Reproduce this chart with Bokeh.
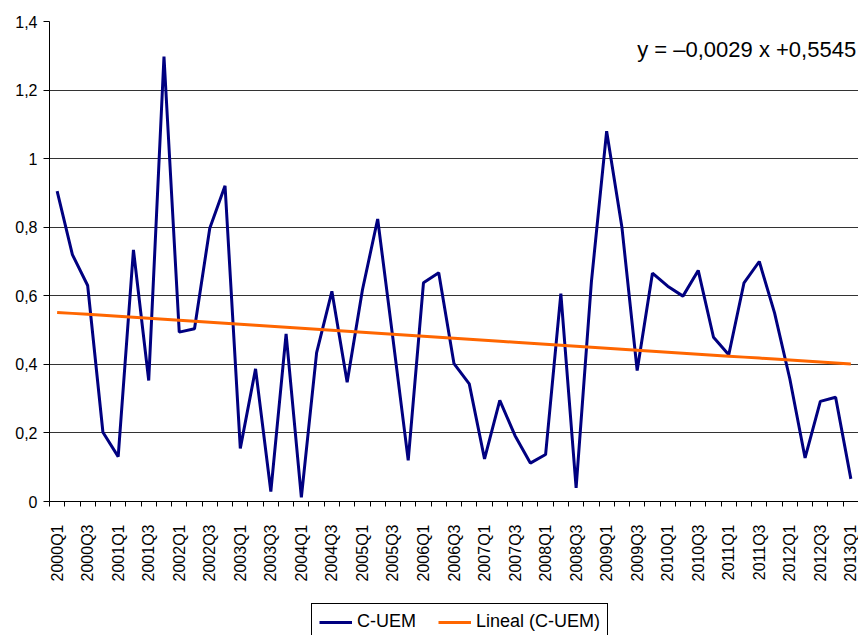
import numpy as np
from bokeh.plotting import figure
from bokeh.layouts import column
from bokeh.models import Range1d, FixedTicker, Legend, LegendItem, Label, ColumnDataSource
from bokeh.embed import file_html
from bokeh.resources import INLINE

# ---- data ----
quarters = [
    "2000Q1", "2000Q2", "2000Q3", "2000Q4",
    "2001Q1", "2001Q2", "2001Q3", "2001Q4",
    "2002Q1", "2002Q2", "2002Q3", "2002Q4",
    "2003Q1", "2003Q2", "2003Q3", "2003Q4",
    "2004Q1", "2004Q2", "2004Q3", "2004Q4",
    "2005Q1", "2005Q2", "2005Q3", "2005Q4",
    "2006Q1", "2006Q2", "2006Q3", "2006Q4",
    "2007Q1", "2007Q2", "2007Q3", "2007Q4",
    "2008Q1", "2008Q2", "2008Q3", "2008Q4",
    "2009Q1", "2009Q2", "2009Q3", "2009Q4",
    "2010Q1", "2010Q2", "2010Q3", "2010Q4",
    "2011Q1", "2011Q2", "2011Q3", "2011Q4",
    "2012Q1", "2012Q2", "2012Q3", "2012Q4",
    "2013Q1",
]
c_uem = [
    0.905, 0.720, 0.630, 0.202,
    0.131, 0.734, 0.353, 1.298,
    0.494, 0.504, 0.797, 0.921,
    0.155, 0.387, 0.029, 0.489,
    0.012, 0.434, 0.613, 0.348,
    0.617, 0.824, 0.475, 0.120,
    0.638, 0.667, 0.402, 0.343,
    0.124, 0.295, 0.192, 0.112,
    0.137, 0.606, 0.040, 0.640,
    1.080, 0.800, 0.382, 0.666,
    0.628, 0.599, 0.674, 0.479,
    0.428, 0.638, 0.700, 0.550,
    0.358, 0.127, 0.292, 0.304,
    0.066,
]
trend_slope = -0.0029
trend_intercept = 0.5545
equation_text = "y =  \u20130,0029 x  +0,5545"
y_ticks = [0, 0.2, 0.4, 0.6, 0.8, 1.0, 1.2, 1.4]
y_tick_labels = ["0", "0,2", "0,4", "0,6", "0,8", "1", "1,2", "1,4"]
series_label = "C-UEM"
trend_label = "Lineal (C-UEM)"

# ---- build ----
FONT = "Liberation Sans"
NAVY = "#000080"
ORANGE = "#FF6600"
n = len(quarters)
idx = np.arange(1, n + 1)
trend = trend_slope * idx + trend_intercept

src = ColumnDataSource(dict(x=idx, y=c_uem, t=trend))

p = figure(width=858, height=600, output_backend="svg", toolbar_location=None,
           x_range=Range1d(0.5, n + 0.5), y_range=Range1d(0, 1.4),
           min_border_left=49, min_border_right=0, min_border_top=21,
           min_border_bottom=99)
p.outline_line_color = None
p.background_fill_color = "white"
p.border_fill_color = "white"

p.line("x", "y", source=src, line_color=NAVY, line_width=3)
p.line("x", "t", source=src, line_color=ORANGE, line_width=3)

# y axis
p.yaxis.ticker = FixedTicker(ticks=y_ticks)
p.yaxis.major_label_overrides = {t: l for t, l in zip(y_ticks, y_tick_labels)}
p.yaxis.axis_line_color = "black"
p.yaxis.major_tick_line_color = "black"
p.yaxis.major_tick_out = 6
p.yaxis.major_tick_in = 0
p.yaxis.minor_tick_line_color = None
p.yaxis.major_label_text_font = FONT
p.yaxis.major_label_text_font_size = "16px"
p.yaxis.major_label_text_color = "black"
p.yaxis.major_label_standoff = 6

# x axis
p.xaxis.ticker = FixedTicker(ticks=list(range(1, n + 1, 2)),
                             minor_ticks=[i + 0.5 for i in range(0, n + 1)])
p.xaxis.major_label_overrides = {i: quarters[i - 1] for i in range(1, n + 1, 2)}
p.xaxis.major_label_orientation = np.pi / 2
p.xaxis.axis_line_color = "black"
p.xaxis.major_tick_out = 0
p.xaxis.major_tick_in = 0
p.xaxis.minor_tick_out = 5
p.xaxis.minor_tick_in = 0
p.xaxis.minor_tick_line_color = "black"
p.xaxis.major_label_text_font = FONT
p.xaxis.major_label_text_font_size = "16px"
p.xaxis.major_label_text_color = "black"
p.xaxis.major_label_standoff = 18

p.xgrid.grid_line_color = None
p.ygrid.grid_line_color = "#333333"
p.ygrid.grid_line_width = 1

p.add_layout(Label(x=39.0, y=1.318, text=equation_text, text_align="left",
                   text_baseline="middle", text_font=FONT, text_font_size="22px",
                   text_color="black"))

# legend strip below the chart (frame aligned with the chart's frame)
lg = figure(width=858, height=35, output_backend="svg", toolbar_location=None,
            x_axis_type=None, y_axis_type=None,
            x_range=Range1d(0, 1), y_range=Range1d(0, 1),
            min_border_left=0, min_border_right=0, min_border_top=0, min_border_bottom=0)
lg.outline_line_color = None
lg.background_fill_color = "white"
lg.border_fill_color = "white"
# legend-key renderers: no visible data, they only supply the key glyphs
k1 = lg.line(x=[np.nan], y=[np.nan], line_color=NAVY, line_width=3)
k2 = lg.line(x=[np.nan], y=[np.nan], line_color=ORANGE, line_width=3)
legend = Legend(items=[LegendItem(label=series_label, renderers=[k1]),
                       LegendItem(label=trend_label, renderers=[k2])],
                orientation="horizontal", location=(262, -5),
                border_line_color="black", border_line_width=1, border_line_alpha=1,
                background_fill_color="white", background_fill_alpha=1,
                label_text_font=FONT, label_text_font_size="18px",
                label_text_color="black",
                glyph_width=33, glyph_height=20, label_standoff=5,
                spacing=22, padding=7, margin=0)
lg.add_layout(legend)

layout = column(p, lg, spacing=0)
open("out.html", "w").write(file_html(layout, INLINE))
